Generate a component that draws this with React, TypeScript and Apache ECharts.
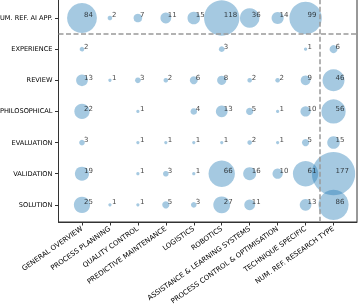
import React, { useEffect, useRef } from 'react';
import * as echarts from 'echarts';

const rowNames = ['NUM. REF. AI APP.', 'EXPERIENCE', 'REVIEW', 'PHILOSOPHICAL', 'EVALUATION', 'VALIDATION', 'SOLUTION'];
const colNames = [
  'GENERAL OVERVIEW',
  'PROCESS PLANNING',
  'QUALITY CONTROL',
  'PREDICTIVE MAINTENANCE',
  'LOGISTICS',
  'ROBOTICS',
  'ASSISTANCE & LEARNING SYSTEMS',
  'PROCESS CONTROL & OPTIMISATION',
  'TECHNIQUE SPECIFIC',
  'NUM. REF. RESEARCH TYPE',
];

const numRefAiApp = [84, 2, 7, 11, 15, 118, 36, 14, 99, null];
const experience = [2, null, null, null, null, 3, null, null, 1, 6];
const review = [13, 1, 3, 2, 6, 8, 2, 2, 9, 46];
const philosophical = [22, null, 1, null, 4, 13, 5, 1, 10, 56];
const evaluation = [3, null, 1, 1, 1, 1, 2, 1, 5, 15];
const validation = [19, null, 1, 3, 1, 66, 16, 10, 61, 177];
const solution = [25, 1, 1, 5, 3, 27, 11, null, 13, 86];

const rowValues = [numRefAiApp, experience, review, philosophical, evaluation, validation, solution];

const colTicks = colNames.map((_, i) => i);
const rowTicks = rowNames.map((_, i) => i);

export default function App() {
  const ref = useRef<HTMLDivElement>(null);
  useEffect(() => {
    const chart = echarts.init(ref.current!, null, { renderer: 'svg' });
    const data: number[][] = [];
    rowValues.forEach((row, ri) =>
      row.forEach((v, ci) => {
        if (v != null) data.push([ci, ri, v]);
      })
    );
    const font = 'DejaVu Sans';
    chart.setOption({
      animation: false,
      grid: {
        left: 58.5,
        top: -0.7,
        right: 2,
        bottom: 82,
        show: true,
        borderColor: '#333',
        borderWidth: 1,
        backgroundColor: 'transparent',
        outerBoundsMode: 'none',
        containLabel: false,
      },
      xAxis: {
        type: 'value',
        min: -0.84,
        max: 9.84,
        splitLine: { show: false },
        axisLine: { show: true, onZero: false, lineStyle: { color: '#333', width: 1 } },
        axisTick: { show: true, length: 3.5, lineStyle: { color: '#333' }, customValues: colTicks },
        axisLabel: {
          customValues: colTicks,
          rotate: 35,
          margin: 6,
          fontSize: 7,
          fontFamily: font,
          color: '#000',
          formatter: (v: number) => colNames[Math.round(v)] ?? '',
        },
      },
      yAxis: {
        type: 'value',
        inverse: true,
        min: -0.6,
        max: 6.55,
        splitLine: { show: false },
        axisLine: { show: true, onZero: false, lineStyle: { color: '#333', width: 1 } },
        axisTick: { show: true, length: 3.5, lineStyle: { color: '#333' }, customValues: rowTicks },
        axisLabel: {
          customValues: rowTicks,
          margin: 6,
          fontSize: 6.6,
          fontFamily: font,
          color: '#000',
          formatter: (v: number) => rowNames[Math.round(v)] ?? '',
        },
      },
      series: [
        {
          type: 'scatter',
          data,
          symbolSize: (d: number[]) => 3.25 * Math.sqrt(d[2]),
          itemStyle: { color: 'rgba(31,119,180,0.5)' },
          emphasis: { disabled: true },
          label: {
            show: true,
            position: 'inside',
            align: 'left',
            verticalAlign: 'bottom',
            offset: [2, 1],
            fontSize: 7,
            fontFamily: font,
            color: '#111',
            formatter: (p: any) => String(p.value[2]),
          },
          markLine: {
            silent: true,
            symbol: 'none',
            label: { show: false },
            lineStyle: { type: [5, 2.5], color: '#999', width: 1.5 },
            data: [{ xAxis: 8.5 }, { yAxis: 0.5 }],
          },
        },
      ],
    });
    return () => chart.dispose();
  }, []);
  return <div ref={ref} style={{ position: 'fixed', left: 0, top: 0, width: 359, height: 304 }} />;
}
